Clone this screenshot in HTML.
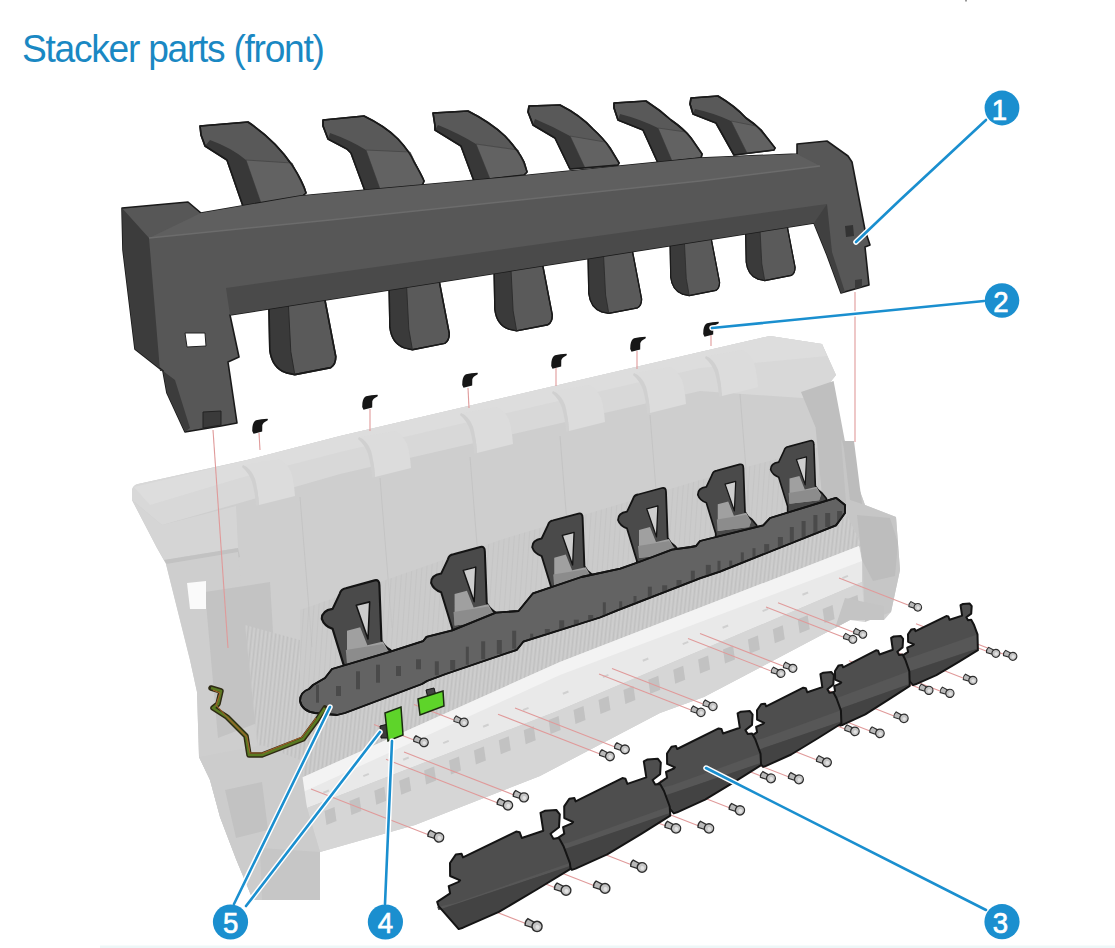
<!DOCTYPE html>
<html><head><meta charset="utf-8">
<style>
html,body{margin:0;padding:0;background:#fff;width:1115px;height:948px;overflow:hidden}
#t{position:absolute;left:22px;top:27.5px;font-family:"Liberation Sans",sans-serif;font-size:38px;color:#1a88c3;white-space:nowrap;letter-spacing:-1.3px;transform-origin:0 0;transform:scaleX(0.978)}
svg{position:absolute;left:0;top:0}
</style></head><body>
<div id="t">Stacker parts (front)</div>
<svg width="1115" height="948" viewBox="0 0 1115 948">
<defs><pattern id="hatch" width="4" height="24" patternUnits="userSpaceOnUse" patternTransform="rotate(6)"><rect width="4" height="24" fill="#cacaca"/><rect width="1.2" height="24" fill="#c0c0c0"/><rect x="2.4" width="0.6" height="24" fill="#d3d3d3"/></pattern><pattern id="hatchU" width="5" height="24" patternUnits="userSpaceOnUse" patternTransform="rotate(4)"><rect width="5" height="24" fill="#c8c8c8"/><rect width="1" height="24" fill="#bdbdbd"/></pattern></defs>
<g id="body">
<path d="M132,490 Q133,485 138,484 L247,460 L340,436 L700,352 L770,336 L822,344 L836,375 L817,399 L841,439 L865,505 L896,517 L900,570 L891,612 L884,620 L850,620 L780,657 L704,697 L660,713 L540,776 L415,825 L320,852 L320,900 L253,900 L236,859 L220,817 L210,780 L199,757 L197,692 L190,660 L166,564 L157,548 L132,500 Z" fill="#cecece"/>
<path d="M132,490 Q133,485 138,484 L247,460 L340,436 L700,352 L770,336 L822,344 L836,375 L817,399 L700,391 L340,474 L236,504 L162,525 L132,500 Z" fill="#d8d8d8"/>
<path d="M134,487 L247,460 L340,436 L700,352 L770,336 L822,344 L827,356 L700,368 L340,452 L240,478 L150,505 Z" fill="#dddddd"/>
<path d="M132,500 L162,525 L236,506 L238,548 L164,560 L157,548 Z" fill="#d5d5d5"/>
<path d="M164,560 L238,548 L240,557 L170,569 Z" fill="#c2c2c2"/>
<path d="M166,564 L238,552 L250,690 L262,790 L253,900 L236,859 L220,817 L210,780 L199,757 L197,692 L190,660 Z" fill="#cecece"/>
<path d="M205,592 L270,582 L278,715 L218,738 Z" fill="#c3c3c3"/>
<path d="M243,465 q8,3 12,14 q3,10 4,26 l36,-9 q-1,-14 -4,-24 q-4,-9 -12,-13 Z" fill="#dcdcdc"/>
<path d="M243,465 q8,3 12,14 q3,10 4,26 l-3,1 q-1,-14 -4,-24 q-3,-9 -10,-15 Z" fill="#d0d0d0"/>
<path d="M359,437 q8,3 12,14 q3,10 4,26 l36,-9 q-1,-14 -4,-24 q-4,-9 -12,-13 Z" fill="#dcdcdc"/>
<path d="M359,437 q8,3 12,14 q3,10 4,26 l-3,1 q-1,-14 -4,-24 q-3,-9 -10,-15 Z" fill="#d0d0d0"/>
<path d="M461,413 q8,3 12,14 q3,10 4,26 l36,-9 q-1,-14 -4,-24 q-4,-9 -12,-13 Z" fill="#dcdcdc"/>
<path d="M461,413 q8,3 12,14 q3,10 4,26 l-3,1 q-1,-14 -4,-24 q-3,-9 -10,-15 Z" fill="#d0d0d0"/>
<path d="M553,391 q8,3 12,14 q3,10 4,26 l36,-9 q-1,-14 -4,-24 q-4,-9 -12,-13 Z" fill="#dcdcdc"/>
<path d="M553,391 q8,3 12,14 q3,10 4,26 l-3,1 q-1,-14 -4,-24 q-3,-9 -10,-15 Z" fill="#d0d0d0"/>
<path d="M634,373 q8,3 12,14 q3,10 4,26 l36,-9 q-1,-14 -4,-24 q-4,-9 -12,-13 Z" fill="#dcdcdc"/>
<path d="M634,373 q8,3 12,14 q3,10 4,26 l-3,1 q-1,-14 -4,-24 q-3,-9 -10,-15 Z" fill="#d0d0d0"/>
<path d="M706,356 q8,3 12,14 q3,10 4,26 l36,-9 q-1,-14 -4,-24 q-4,-9 -12,-13 Z" fill="#dcdcdc"/>
<path d="M706,356 q8,3 12,14 q3,10 4,26 l-3,1 q-1,-14 -4,-24 q-3,-9 -10,-15 Z" fill="#d0d0d0"/>
<path d="M300,497 L312,647" stroke="#c4c4c4" stroke-width="1" fill="none"/>
<path d="M380,478 L392,628" stroke="#c4c4c4" stroke-width="1" fill="none"/>
<path d="M470,457 L482,607" stroke="#c4c4c4" stroke-width="1" fill="none"/>
<path d="M560,436 L572,586" stroke="#c4c4c4" stroke-width="1" fill="none"/>
<path d="M650,415 L662,565" stroke="#c4c4c4" stroke-width="1" fill="none"/>
<path d="M740,394 L752,544" stroke="#c4c4c4" stroke-width="1" fill="none"/>
<path d="M300,610 L500,540 L700,480 L845,440 L850,500 L560,630 L300,700 Z" fill="url(#hatchU)" opacity="0.55"/>
<path d="M801,392 L833.6,381 L844.4,438.5 L855,506.5 L823,506.5 L815.6,427.6 Z" fill="#bfbfbf"/>
<path d="M245,625 L300,640 L300,700 L560,628 L847,515 L862,546 L560,662 L299,779 L262,790 Z" fill="url(#hatch)"/>
<path d="M299,779 L560,662 L859,546 L862,561 L862,582 L560,710 L307,808 Z" fill="#e9e9e9"/>
<path d="M299,779 L560,662 L859,546 L862,561 L560,675 L303,792 Z" fill="#f3f3f3"/>
<rect x="323.0" y="791.8" width="6" height="2" fill="#d0d0d0" transform="rotate(-22 323.0 791.8)"/>
<rect x="362.9" y="775.2" width="6" height="2" fill="#d0d0d0" transform="rotate(-22 362.9 775.2)"/>
<rect x="402.8" y="758.8" width="6" height="2" fill="#d0d0d0" transform="rotate(-22 402.8 758.8)"/>
<rect x="442.8" y="742.2" width="6" height="2" fill="#d0d0d0" transform="rotate(-22 442.8 742.2)"/>
<rect x="482.7" y="725.8" width="6" height="2" fill="#d0d0d0" transform="rotate(-22 482.7 725.8)"/>
<rect x="522.6" y="709.2" width="6" height="2" fill="#d0d0d0" transform="rotate(-22 522.6 709.2)"/>
<rect x="562.5" y="692.8" width="6" height="2" fill="#d0d0d0" transform="rotate(-22 562.5 692.8)"/>
<rect x="602.5" y="676.2" width="6" height="2" fill="#d0d0d0" transform="rotate(-22 602.5 676.2)"/>
<rect x="642.4" y="659.8" width="6" height="2" fill="#d0d0d0" transform="rotate(-22 642.4 659.8)"/>
<rect x="682.3" y="643.2" width="6" height="2" fill="#d0d0d0" transform="rotate(-22 682.3 643.2)"/>
<rect x="722.2" y="626.8" width="6" height="2" fill="#d0d0d0" transform="rotate(-22 722.2 626.8)"/>
<rect x="762.2" y="610.2" width="6" height="2" fill="#d0d0d0" transform="rotate(-22 762.2 610.2)"/>
<rect x="802.1" y="593.8" width="6" height="2" fill="#d0d0d0" transform="rotate(-22 802.1 593.8)"/>
<rect x="842.0" y="577.2" width="6" height="2" fill="#d0d0d0" transform="rotate(-22 842.0 577.2)"/>
<path d="M307,808 L560,710 L862,582 L865,622 L850,620 L780,657 L704,697 L660,713 L540,776 L415,825 L320,852 Z" fill="#d6d6d6"/>
<path d="M324.5,811.0 l10,-4 l2,14 l-10,4 Z" fill="#c2c2c2"/>
<path d="M349.4,800.9 l10,-4 l2,14 l-10,4 Z" fill="#c2c2c2"/>
<path d="M374.3,790.8 l10,-4 l2,14 l-10,4 Z" fill="#c2c2c2"/>
<path d="M399.2,780.7 l10,-4 l2,14 l-10,4 Z" fill="#c2c2c2"/>
<path d="M424.1,770.6 l10,-4 l2,14 l-10,4 Z" fill="#c2c2c2"/>
<path d="M449.0,760.5 l10,-4 l2,14 l-10,4 Z" fill="#c2c2c2"/>
<path d="M473.9,750.4 l10,-4 l2,14 l-10,4 Z" fill="#c2c2c2"/>
<path d="M498.8,740.3 l10,-4 l2,14 l-10,4 Z" fill="#c2c2c2"/>
<path d="M523.7,730.2 l10,-4 l2,14 l-10,4 Z" fill="#c2c2c2"/>
<path d="M548.6,720.1 l10,-4 l2,14 l-10,4 Z" fill="#c2c2c2"/>
<path d="M573.5,710.0 l10,-4 l2,14 l-10,4 Z" fill="#c2c2c2"/>
<path d="M598.5,700.0 l10,-4 l2,14 l-10,4 Z" fill="#c2c2c2"/>
<path d="M623.4,689.9 l10,-4 l2,14 l-10,4 Z" fill="#c2c2c2"/>
<path d="M648.3,679.8 l10,-4 l2,14 l-10,4 Z" fill="#c2c2c2"/>
<path d="M673.2,669.7 l10,-4 l2,14 l-10,4 Z" fill="#c2c2c2"/>
<path d="M698.1,659.6 l10,-4 l2,14 l-10,4 Z" fill="#c2c2c2"/>
<path d="M723.0,649.5 l10,-4 l2,14 l-10,4 Z" fill="#c2c2c2"/>
<path d="M747.9,639.4 l10,-4 l2,14 l-10,4 Z" fill="#c2c2c2"/>
<path d="M772.8,629.3 l10,-4 l2,14 l-10,4 Z" fill="#c2c2c2"/>
<path d="M797.7,619.2 l10,-4 l2,14 l-10,4 Z" fill="#c2c2c2"/>
<path d="M822.6,609.1 l10,-4 l2,14 l-10,4 Z" fill="#c2c2c2"/>
<path d="M847.5,599.0 l10,-4 l2,14 l-10,4 Z" fill="#c2c2c2"/>
<path d="M841,439 L865,505 L896,517 L900,570 L891,612 L865,622 L862,546 L847,515 Z" fill="#c6c6c6"/>
<path d="M857,515 L890,518 L898,543 L895,576 L873,581 L862,560 Z" fill="#bdbdbd"/>
<path d="M843,441 L854,441 L862,504 L850,500 Z" fill="#bcbcbc"/>
<path d="M845,598 L884,606 L884,620 L850,620 L835,628 Z" fill="#c4c4c4"/>
<path d="M199,757 L262,745 L300,760 L307,808 L320,852 L320,900 L253,900 L236,859 L220,817 L210,780 Z" fill="#cccccc"/>
<path d="M260,848 L320,852 L320,900 L262,900 Z" fill="#c6c6c6"/>
<path d="M225,790 L262,782 L268,830 L236,838 Z" fill="#c2c2c2"/>
<path d="M187,583 L206,581 L206,609 L190,609 Z" fill="#fafafa"/>
</g>
<g id="arms" stroke="#141414" stroke-width="1.8" stroke-linejoin="round">
<defs>
<g id="arm">
<path d="M-1,3 Q0,-1 4,-1.5 L28,-8 Q32,-9 32,-4 L33.7,42 Q36,47 41,50 L46,56 L46,74 L3,74 L2.9,64.7 L-7,32.4 Q-14,30 -16,24 Q-16,17 -7,15.7 Z" fill="#4a4a4a"/>
<path d="M5,34 L16,31 L22,46 L35,43 L40,52 L38,58 L5,62 Z" fill="#a0a0a0" stroke="none"/>
<path d="M4,50 L35,45 L40,52 L38,58 L5,62 Z" fill="#8c8c8c" stroke="none"/>
<path d="M12.7,12.8 L23.9,9.9 L22.5,40.9 Z" fill="#cdcdcd" stroke-width="1.3"/>
</g>
</defs>
<use href="#arm" transform="translate(341,590) scale(1.2)"/>
<use href="#arm" transform="translate(449,556) scale(1.12)"/>
<use href="#arm" transform="translate(549,522) scale(1.05)"/>
<use href="#arm" transform="translate(634,496) scale(1.0)"/>
<use href="#arm" transform="translate(713,472) scale(0.95)"/>
<use href="#arm" transform="translate(785,448) scale(0.9)"/>
<path d="M300,701 Q300,692 309,689 L313,685 L325,678 L332,669 L388,652.3 L423,641.2 L426.5,636.9 L452.3,630.4 L495.9,612.6 L518.5,611 L533,593.3 L581.4,577 L620.3,568.7 L641.8,561 L672,549.7 L691,547 L696,546 L700,541 L763.2,525.4 L770,518 L836,497.8 L845,505 L845,513 L836,525.4 L720,571.6 L700.5,578.2 L617.4,610.3 L600,617.5 L523.3,641.7 L516.9,649.8 L445.8,674 L427,681 L422,684 L345,713 L337,715 L315,713 Q302,711 300,701 Z" fill="#636363"/>
<clipPath id="bclip"><path d="M300,701 Q300,692 309,689 L313,685 L325,678 L332,669 L388,652.3 L423,641.2 L426.5,636.9 L452.3,630.4 L495.9,612.6 L518.5,611 L533,593.3 L581.4,577 L620.3,568.7 L641.8,561 L672,549.7 L691,547 L696,546 L700,541 L763.2,525.4 L770,518 L836,497.8 L845,505 L845,513 L836,525.4 L720,571.6 L700.5,578.2 L617.4,610.3 L600,617.5 L523.3,641.7 L516.9,649.8 L445.8,674 L427,681 L422,684 L345,713 L337,715 L315,713 Q302,711 300,701 Z"/></clipPath><g clip-path="url(#bclip)">
<rect x="316.0" y="684.7" width="3" height="18" fill="#4a4a4a" stroke="none"/>
<rect x="336.0" y="686.0" width="5" height="10" fill="#4a4a4a" stroke="none"/>
<rect x="356.0" y="671.3" width="4" height="18" fill="#4a4a4a" stroke="none"/>
<rect x="376.0" y="664.7" width="4" height="18" fill="#4a4a4a" stroke="none"/>
<rect x="396.0" y="666.0" width="5" height="10" fill="#4a4a4a" stroke="none"/>
<rect x="416.0" y="659.3" width="5" height="10" fill="#4a4a4a" stroke="none"/>
<rect x="434.8" y="661.3" width="4" height="14" fill="#4a4a4a" stroke="none"/>
<rect x="450.2" y="660.0" width="5" height="10" fill="#4a4a4a" stroke="none"/>
<rect x="465.8" y="646.7" width="3" height="18" fill="#4a4a4a" stroke="none"/>
<rect x="481.2" y="641.3" width="4" height="18" fill="#4a4a4a" stroke="none"/>
<rect x="496.8" y="640.0" width="5" height="14" fill="#4a4a4a" stroke="none"/>
<rect x="512.2" y="630.7" width="4" height="18" fill="#4a4a4a" stroke="none"/>
<rect x="530.2" y="633.7" width="3" height="10" fill="#4a4a4a" stroke="none"/>
<rect x="544.8" y="629.0" width="5" height="10" fill="#4a4a4a" stroke="none"/>
<rect x="559.2" y="620.3" width="5" height="14" fill="#4a4a4a" stroke="none"/>
<rect x="573.8" y="619.7" width="5" height="10" fill="#4a4a4a" stroke="none"/>
<rect x="588.2" y="615.0" width="5" height="10" fill="#4a4a4a" stroke="none"/>
<rect x="602.8" y="602.3" width="3" height="18" fill="#4a4a4a" stroke="none"/>
<rect x="619.2" y="601.3" width="3" height="14" fill="#4a4a4a" stroke="none"/>
<rect x="633.5" y="596.0" width="3" height="14" fill="#4a4a4a" stroke="none"/>
<rect x="647.8" y="586.7" width="4" height="18" fill="#4a4a4a" stroke="none"/>
<rect x="662.2" y="585.3" width="5" height="14" fill="#4a4a4a" stroke="none"/>
<rect x="676.5" y="580.0" width="5" height="14" fill="#4a4a4a" stroke="none"/>
<rect x="690.8" y="570.7" width="4" height="18" fill="#4a4a4a" stroke="none"/>
<rect x="705.8" y="564.9" width="5" height="14" fill="#4a4a4a" stroke="none"/>
<rect x="717.5" y="560.8" width="3" height="14" fill="#4a4a4a" stroke="none"/>
<rect x="729.2" y="560.6" width="3" height="10" fill="#4a4a4a" stroke="none"/>
<rect x="740.8" y="552.4" width="3" height="14" fill="#4a4a4a" stroke="none"/>
<rect x="752.5" y="548.2" width="3" height="14" fill="#4a4a4a" stroke="none"/>
<rect x="764.2" y="544.1" width="5" height="14" fill="#4a4a4a" stroke="none"/>
<rect x="777.9" y="537.0" width="5" height="14" fill="#4a4a4a" stroke="none"/>
<rect x="789.8" y="527.0" width="4" height="18" fill="#4a4a4a" stroke="none"/>
<rect x="801.6" y="521.0" width="4" height="18" fill="#4a4a4a" stroke="none"/>
<rect x="813.4" y="515.0" width="4" height="18" fill="#4a4a4a" stroke="none"/>
<rect x="825.2" y="513.0" width="5" height="14" fill="#4a4a4a" stroke="none"/>
<rect x="837.1" y="511.0" width="5" height="10" fill="#4a4a4a" stroke="none"/>
</g>
<path d="M300,701 Q300,692 309,689 L313,685 L325,678 L332,669 L388,652.3 L423,641.2 L426.5,636.9 L452.3,630.4 L495.9,612.6 L518.5,611 L533,593.3 L581.4,577 L620.3,568.7 L641.8,561 L672,549.7 L691,547 L696,546 L700,541 L763.2,525.4 L770,518 L836,497.8 L845,505 L845,513 L836,525.4 L720,571.6 L700.5,578.2 L617.4,610.3 L600,617.5 L523.3,641.7 L516.9,649.8 L445.8,674 L427,681 L422,684 L345,713 L337,715 L315,713 Q302,711 300,701 Z" fill="none" stroke="#141414" stroke-width="1.8"/>
</g>
<g stroke="#e09a9a" stroke-width="1.1" fill="none">
<line x1="908" y1="605" x2="839.0" y2="578.1"/>
<line x1="853" y1="632" x2="778.0" y2="602.8"/>
<line x1="843" y1="637" x2="766.0" y2="607.0"/>
<line x1="783" y1="666" x2="700.0" y2="633.6"/>
<line x1="771" y1="671" x2="688.0" y2="638.6"/>
<line x1="986" y1="651" x2="916.0" y2="623.7"/>
<line x1="1003" y1="654" x2="933.0" y2="626.7"/>
<line x1="963" y1="678" x2="893.0" y2="650.7"/>
<line x1="919" y1="688" x2="849.0" y2="660.7"/>
<line x1="940" y1="691" x2="870.0" y2="663.7"/>
<line x1="894" y1="716" x2="824.0" y2="688.7"/>
<line x1="845" y1="729" x2="775.0" y2="701.7"/>
<line x1="870" y1="731" x2="800.0" y2="703.7"/>
<line x1="817" y1="760" x2="747.0" y2="732.7"/>
<line x1="761" y1="776" x2="691.0" y2="748.7"/>
<line x1="789" y1="777" x2="719.0" y2="749.7"/>
<line x1="730" y1="808" x2="660.0" y2="780.7"/>
<line x1="666" y1="826" x2="596.0" y2="798.7"/>
<line x1="699" y1="826" x2="629.0" y2="798.7"/>
<line x1="632" y1="865" x2="562.0" y2="837.7"/>
<line x1="595" y1="886" x2="525.0" y2="858.7"/>
<line x1="556" y1="888" x2="486.0" y2="860.7"/>
<line x1="527" y1="924" x2="457.0" y2="896.7"/>
<line x1="454" y1="720" x2="414.0" y2="704.4"/>
<line x1="414" y1="740" x2="374.0" y2="724.4"/>
<line x1="615" y1="747" x2="515.0" y2="708.0"/>
<line x1="600" y1="754" x2="498.0" y2="714.2"/>
<line x1="514" y1="795" x2="404.0" y2="752.1"/>
<line x1="498" y1="803" x2="386.0" y2="759.3"/>
<line x1="429" y1="835" x2="311.0" y2="789.0"/>
<line x1="691" y1="710" x2="599.0" y2="674.1"/>
<line x1="703" y1="704" x2="612.0" y2="668.5"/>
<line x1="213" y1="430" x2="228" y2="648"/><line x1="855" y1="292" x2="855" y2="442"/>
<line x1="259" y1="433" x2="260" y2="450"/>
<line x1="370" y1="409" x2="370" y2="431"/>
<line x1="468" y1="388" x2="469" y2="408"/>
<line x1="556" y1="368" x2="556" y2="386"/>
<line x1="637" y1="351" x2="637" y2="369"/>
<line x1="711" y1="335" x2="711" y2="346"/>
</g>
<path d="M908.0,634.3 L911.4,629.4 L914.7,629.0 L915.5,631.1 L946.3,616.1 L948.4,616.5 L949.6,619.8 L962.1,615.6 L960.5,605.2 L963.0,604.0 L969.7,603.6 L971.7,606.1 L971.2,613.6 L966.3,617.3 L968.0,620.2 L971.2,619.8 L973.8,624.4 L977.5,634.4 L977.9,650.2 L958.8,661.9 L936.4,675.2 L915.5,684.3 L913.0,685.1 L901.4,671.9 L900.6,656.9 L908.1,651.9 L907.2,647.7 L913.0,645.2 L913.9,644.3 L908.1,641.8 Z" fill="#4e4e4e"/>
<path d="M900.6,659.8 L911.1,657.5 L975.7,634.9 L977.5,634.4 L977.8,648.5 L901.3,674.1 Z" fill="#575757"/>
<path d="M901.3,674.1 L977.8,648.5 L977.9,650.2 L958.8,661.9 L936.4,675.2 L915.5,684.3 L913.0,685.1 L901.4,671.9 Z" fill="#434343"/>
<path d="M908.0,634.3 L911.4,629.4 L914.7,629.0 L915.5,631.1 L946.3,616.1 L948.4,616.5 L949.6,619.8 L962.1,615.6 L960.5,605.2 L963.0,604.0 L969.7,603.6 L971.7,606.1 L971.2,613.6 L966.3,617.3 L968.0,620.2 L971.2,619.8 L973.8,624.4 L977.5,634.4 L977.9,650.2 L958.8,661.9 L936.4,675.2 L915.5,684.3 L913.0,685.1 L901.4,671.9 L900.6,656.9 L908.1,651.9 L907.2,647.7 L913.0,645.2 L913.9,644.3 L908.1,641.8 Z" fill="none" stroke="#141414" stroke-width="2" stroke-linejoin="round"/>
<path d="M835.0,671.0 L838.6,665.4 L842.2,664.9 L843.1,667.3 L876.0,650.3 L878.2,650.7 L879.5,654.5 L892.8,649.7 L891.1,637.9 L893.8,636.5 L900.9,636.0 L903.1,638.9 L902.6,647.4 L897.3,651.7 L899.1,655.0 L902.6,654.5 L905.3,659.7 L909.3,671.1 L909.8,685.9 L889.3,699.2 L865.3,714.3 L843.1,724.7 L840.4,725.6 L827.9,710.5 L827.1,696.7 L835.1,691.0 L834.2,686.2 L840.4,683.4 L841.3,682.4 L835.1,679.6 Z" fill="#4e4e4e"/>
<path d="M827.1,700.0 L838.3,697.4 L907.4,671.7 L909.3,671.1 L909.6,684.0 L827.8,713.0 Z" fill="#575757"/>
<path d="M827.8,713.0 L909.6,684.0 L909.8,685.9 L889.3,699.2 L865.3,714.3 L843.1,724.7 L840.4,725.6 L827.9,710.5 Z" fill="#434343"/>
<path d="M835.0,671.0 L838.6,665.4 L842.2,664.9 L843.1,667.3 L876.0,650.3 L878.2,650.7 L879.5,654.5 L892.8,649.7 L891.1,637.9 L893.8,636.5 L900.9,636.0 L903.1,638.9 L902.6,647.4 L897.3,651.7 L899.1,655.0 L902.6,654.5 L905.3,659.7 L909.3,671.1 L909.8,685.9 L889.3,699.2 L865.3,714.3 L843.1,724.7 L840.4,725.6 L827.9,710.5 L827.1,696.7 L835.1,691.0 L834.2,686.2 L840.4,683.4 L841.3,682.4 L835.1,679.6 Z" fill="none" stroke="#141414" stroke-width="2" stroke-linejoin="round"/>
<path d="M757.0,710.3 L761.1,704.2 L765.1,703.7 L766.1,706.3 L803.3,687.7 L805.8,688.2 L807.3,692.3 L822.3,687.1 L820.4,674.2 L823.4,672.7 L831.4,672.1 L833.9,675.2 L833.3,684.6 L827.4,689.2 L829.4,692.8 L833.3,692.3 L836.4,698.0 L840.9,710.4 L841.4,723.5 L818.3,738.0 L791.2,754.5 L766.1,765.9 L763.1,766.9 L749.0,750.4 L748.0,738.3 L757.1,732.1 L756.1,726.9 L763.1,723.8 L764.1,722.8 L757.1,719.7 Z" fill="#4e4e4e"/>
<path d="M748.0,742.0 L760.8,739.1 L838.8,711.0 L840.9,710.4 L841.2,721.5 L748.9,753.1 Z" fill="#575757"/>
<path d="M748.9,753.1 L841.2,721.5 L841.4,723.5 L818.3,738.0 L791.2,754.5 L766.1,765.9 L763.1,766.9 L749.0,750.4 Z" fill="#434343"/>
<path d="M757.0,710.3 L761.1,704.2 L765.1,703.7 L766.1,706.3 L803.3,687.7 L805.8,688.2 L807.3,692.3 L822.3,687.1 L820.4,674.2 L823.4,672.7 L831.4,672.1 L833.9,675.2 L833.3,684.6 L827.4,689.2 L829.4,692.8 L833.3,692.3 L836.4,698.0 L840.9,710.4 L841.4,723.5 L818.3,738.0 L791.2,754.5 L766.1,765.9 L763.1,766.9 L749.0,750.4 L748.0,738.3 L757.1,732.1 L756.1,726.9 L763.1,723.8 L764.1,722.8 L757.1,719.7 Z" fill="none" stroke="#141414" stroke-width="2" stroke-linejoin="round"/>
<path d="M667.0,753.5 L671.5,746.7 L676.0,746.1 L677.1,749.0 L718.6,728.4 L721.4,728.9 L723.0,733.5 L739.8,727.7 L737.6,713.4 L740.9,711.7 L749.9,711.1 L752.6,714.5 L752.0,724.9 L745.4,730.1 L747.7,734.1 L752.0,733.5 L755.5,739.8 L760.5,753.6 L761.1,765.2 L735.3,781.3 L705.1,799.6 L677.1,812.3 L673.8,813.4 L658.1,795.1 L657.0,784.6 L667.1,777.7 L666.0,772.0 L673.8,768.5 L674.9,767.3 L667.1,763.9 Z" fill="#4e4e4e"/>
<path d="M657.0,788.7 L671.2,785.5 L758.1,754.3 L760.5,753.6 L760.8,762.9 L658.0,798.1 Z" fill="#575757"/>
<path d="M658.0,798.1 L760.8,762.9 L761.1,765.2 L735.3,781.3 L705.1,799.6 L677.1,812.3 L673.8,813.4 L658.1,795.1 Z" fill="#434343"/>
<path d="M667.0,753.5 L671.5,746.7 L676.0,746.1 L677.1,749.0 L718.6,728.4 L721.4,728.9 L723.0,733.5 L739.8,727.7 L737.6,713.4 L740.9,711.7 L749.9,711.1 L752.6,714.5 L752.0,724.9 L745.4,730.1 L747.7,734.1 L752.0,733.5 L755.5,739.8 L760.5,753.6 L761.1,765.2 L735.3,781.3 L705.1,799.6 L677.1,812.3 L673.8,813.4 L658.1,795.1 L657.0,784.6 L667.1,777.7 L666.0,772.0 L673.8,768.5 L674.9,767.3 L667.1,763.9 Z" fill="none" stroke="#141414" stroke-width="2" stroke-linejoin="round"/>
<path d="M564.2,806.4 L569.3,798.8 L574.4,798.1 L575.6,801.4 L622.4,778.1 L625.5,778.8 L627.4,783.9 L646.3,777.4 L643.8,761.3 L647.6,759.4 L657.7,758.7 L660.8,762.6 L660.1,774.3 L652.6,780.0 L655.2,784.5 L660.1,783.9 L664.0,791.0 L669.7,806.5 L670.3,815.7 L641.3,833.8 L607.2,854.4 L575.6,868.6 L571.9,869.9 L554.2,849.3 L552.9,841.4 L564.3,833.7 L563.1,827.2 L571.9,823.3 L573.1,822.0 L564.3,818.1 Z" fill="#4e4e4e"/>
<path d="M552.9,846.0 L569.0,842.4 L667.0,807.3 L669.7,806.5 L670.1,813.1 L554.0,852.7 Z" fill="#575757"/>
<path d="M554.0,852.7 L670.1,813.1 L670.3,815.7 L641.3,833.8 L607.2,854.4 L575.6,868.6 L571.9,869.9 L554.2,849.3 Z" fill="#434343"/>
<path d="M564.2,806.4 L569.3,798.8 L574.4,798.1 L575.6,801.4 L622.4,778.1 L625.5,778.8 L627.4,783.9 L646.3,777.4 L643.8,761.3 L647.6,759.4 L657.7,758.7 L660.8,762.6 L660.1,774.3 L652.6,780.0 L655.2,784.5 L660.1,783.9 L664.0,791.0 L669.7,806.5 L670.3,815.7 L641.3,833.8 L607.2,854.4 L575.6,868.6 L571.9,869.9 L554.2,849.3 L552.9,841.4 L564.3,833.7 L563.1,827.2 L571.9,823.3 L573.1,822.0 L564.3,818.1 Z" fill="none" stroke="#141414" stroke-width="2" stroke-linejoin="round"/>
<path d="M450.0,863.0 L455.8,854.5 L461.6,853.8 L463.0,857.4 L516.1,831.6 L519.7,832.3 L521.8,838.0 L543.3,830.8 L540.5,812.9 L544.8,810.8 L556.3,810.0 L559.8,814.3 L559.0,827.3 L550.5,833.7 L553.4,838.7 L559.0,838.0 L563.4,845.9 L569.9,863.1 L570.6,868.9 L537.6,889.0 L498.9,911.9 L463.0,927.7 L458.7,929.1 L438.6,906.2 L437.2,901.9 L450.1,893.3 L448.7,886.1 L458.7,881.8 L460.1,880.3 L450.1,876.0 Z" fill="#4e4e4e"/>
<path d="M437.2,907.0 L455.4,903.0 L566.8,864.0 L569.9,863.1 L570.3,866.0 L438.4,910.0 Z" fill="#575757"/>
<path d="M438.4,910.0 L570.3,866.0 L570.6,868.9 L537.6,889.0 L498.9,911.9 L463.0,927.7 L458.7,929.1 L438.6,906.2 Z" fill="#434343"/>
<path d="M450.0,863.0 L455.8,854.5 L461.6,853.8 L463.0,857.4 L516.1,831.6 L519.7,832.3 L521.8,838.0 L543.3,830.8 L540.5,812.9 L544.8,810.8 L556.3,810.0 L559.8,814.3 L559.0,827.3 L550.5,833.7 L553.4,838.7 L559.0,838.0 L563.4,845.9 L569.9,863.1 L570.6,868.9 L537.6,889.0 L498.9,911.9 L463.0,927.7 L458.7,929.1 L438.6,906.2 L437.2,901.9 L450.1,893.3 L448.7,886.1 L458.7,881.8 L460.1,880.3 L450.1,876.0 Z" fill="none" stroke="#141414" stroke-width="2" stroke-linejoin="round"/>
<defs><g id="screw"><path d="M-2,-2.4 L-9,-3.2 Q-10.6,0 -9,3 L-2,2.4 Z" fill="#b9b9b9" stroke="#2e2e2e" stroke-width="1.2"/><circle cx="1" cy="0" r="4.4" fill="#c4c4c4" stroke="#2e2e2e" stroke-width="1.3"/><circle cx="1.6" cy="0.4" r="1.8" fill="#e2e2e2"/></g></defs>
<use href="#screw" transform="translate(917,607) rotate(22) scale(0.86)"/>
<use href="#screw" transform="translate(862,634) rotate(22) scale(0.88)"/>
<use href="#screw" transform="translate(852,639) rotate(22) scale(0.89)"/>
<use href="#screw" transform="translate(792,668) rotate(22) scale(0.91)"/>
<use href="#screw" transform="translate(780,673) rotate(22) scale(0.92)"/>
<use href="#screw" transform="translate(995,653) rotate(22) scale(0.90)"/>
<use href="#screw" transform="translate(1012,656) rotate(22) scale(0.90)"/>
<use href="#screw" transform="translate(972,680) rotate(22) scale(0.92)"/>
<use href="#screw" transform="translate(928,690) rotate(22) scale(0.93)"/>
<use href="#screw" transform="translate(949,693) rotate(22) scale(0.93)"/>
<use href="#screw" transform="translate(903,718) rotate(22) scale(0.96)"/>
<use href="#screw" transform="translate(854,731) rotate(22) scale(0.97)"/>
<use href="#screw" transform="translate(879,733) rotate(22) scale(0.97)"/>
<use href="#screw" transform="translate(826,762) rotate(22) scale(1.00)"/>
<use href="#screw" transform="translate(770,778) rotate(22) scale(1.01)"/>
<use href="#screw" transform="translate(798,779) rotate(22) scale(1.01)"/>
<use href="#screw" transform="translate(739,810) rotate(22) scale(1.04)"/>
<use href="#screw" transform="translate(675,828) rotate(22) scale(1.06)"/>
<use href="#screw" transform="translate(708,828) rotate(22) scale(1.06)"/>
<use href="#screw" transform="translate(641,867) rotate(22) scale(1.09)"/>
<use href="#screw" transform="translate(604,888) rotate(22) scale(1.11)"/>
<use href="#screw" transform="translate(565,890) rotate(22) scale(1.11)"/>
<use href="#screw" transform="translate(536,926) rotate(22) scale(1.15)"/>
<use href="#screw" transform="translate(463,722) rotate(22) scale(0.96)"/>
<use href="#screw" transform="translate(423,742) rotate(22) scale(0.98)"/>
<use href="#screw" transform="translate(624,749) rotate(22) scale(0.99)"/>
<use href="#screw" transform="translate(609,756) rotate(22) scale(0.99)"/>
<use href="#screw" transform="translate(523,797) rotate(22) scale(1.03)"/>
<use href="#screw" transform="translate(507,805) rotate(22) scale(1.04)"/>
<use href="#screw" transform="translate(438,837) rotate(22) scale(1.07)"/>
<use href="#screw" transform="translate(700,712) rotate(22) scale(0.95)"/>
<use href="#screw" transform="translate(712,706) rotate(22) scale(0.95)"/>
<g id="cover" stroke="#1a1a1a" stroke-width="1.6" stroke-linejoin="round">
<path d="M201,135 L200,126 L248,122 Q275,140 292,165 Q303,182 306,193 L300,198 L244,209 L227,160 L205,146 Z" fill="#595959"/>
<path d="M246,160 L292,163 L306,193 L300,198 L262,206 Z" fill="#626262" stroke="#454545" stroke-width="0.8"/>
<path d="M205,146 L227,160 L244,209 L262,206 L246,160 Q232,148 210,140 Z" fill="#383838" stroke="none"/>
<path d="M201,135 L200,126 L248,122 Q275,140 292,165 Q303,182 306,193 L300,198 L244,209 L227,160 L205,146 Z" fill="none"/>
<path d="M323,126 L323,120 L364,116 Q385,126 398,139 Q410,152 414,162 Q421,174 424,181 L422,186 L365,191 L351,153 L347,149 L328,139 Z" fill="#595959"/>
<path d="M366,150 L410,152 L424,181 L422,186 L380,189 Z" fill="#626262" stroke="#454545" stroke-width="0.8"/>
<path d="M328,139 L347,149 L351,153 L365,191 L380,189 L366,150 Q350,140 330,133 Z" fill="#383838" stroke="none"/>
<path d="M323,126 L323,120 L364,116 Q385,126 398,139 Q410,152 414,162 Q421,174 424,181 L422,186 L365,191 L351,153 L347,149 L328,139 Z" fill="none"/>
<path d="M435,126 L433,113 L468,111 Q490,122 505,136 Q518,150 524,162 L527,172 L524,175 L474,181 L461,146 L435,130 Z" fill="#595959"/>
<path d="M476,144 L518,150 L527,172 L524,175 L490,179 Z" fill="#626262" stroke="#454545" stroke-width="0.8"/>
<path d="M435,130 L461,146 L474,181 L490,179 L476,144 Q458,133 438,125 Z" fill="#383838" stroke="none"/>
<path d="M435,126 L433,113 L468,111 Q490,122 505,136 Q518,150 524,162 L527,172 L524,175 L474,181 L461,146 L435,130 Z" fill="none"/>
<path d="M528,112 L529,106 L560,105 Q580,115 593,129 Q604,139 610,148 L619,163 L618,165 L570,169 L555,138 L533,125 Z" fill="#595959"/>
<path d="M570,136 L605,142 L619,163 L618,165 L585,168 Z" fill="#626262" stroke="#454545" stroke-width="0.8"/>
<path d="M533,125 L555,138 L570,169 L585,168 L570,136 Q552,126 535,119 Z" fill="#383838" stroke="none"/>
<path d="M528,112 L529,106 L560,105 Q580,115 593,129 Q604,139 610,148 L619,163 L618,165 L570,169 L555,138 L533,125 Z" fill="none"/>
<path d="M614,108 L614,103 L646,101 Q660,110 671,120 Q684,129 691,138 L702,154 L701,158 L658,163 L643,130 L618,120 Z" fill="#595959"/>
<path d="M658,128 L686,132 L702,154 L701,158 L672,161 Z" fill="#626262" stroke="#454545" stroke-width="0.8"/>
<path d="M618,120 L643,130 L658,163 L672,161 L658,128 Q640,119 620,114 Z" fill="#383838" stroke="none"/>
<path d="M614,108 L614,103 L646,101 Q660,110 671,120 Q684,129 691,138 L702,154 L701,158 L658,163 L643,130 L618,120 Z" fill="none"/>
<path d="M690,104 L691,98 L718,96 Q735,106 746,118 Q755,124 761,130 L775,148 L774,150 L734,155 L716,123 L693,114 Z" fill="#595959"/>
<path d="M731,121 L756,126 L775,148 L774,150 L747,153 Z" fill="#626262" stroke="#454545" stroke-width="0.8"/>
<path d="M693,114 L716,123 L734,155 L747,153 L731,121 Q714,113 695,109 Z" fill="#383838" stroke="none"/>
<path d="M690,104 L691,98 L718,96 Q735,106 746,118 Q755,124 761,130 L775,148 L774,150 L734,155 L716,123 L693,114 Z" fill="none"/>
<defs><g id="lfing"><path d="M0,-14 L1,38 Q3,56 17,61 L26,63 L62,56 Q67,53 67,45 L53,-28 Z" fill="#5a5a5a"/><path d="M0,-14 L1,38 Q3,56 17,61 L26,63 L22,40 L19,-18 Z" fill="#3a3a3a" stroke="none"/><path d="M0,-14 L1,38 Q3,56 17,61 L26,63 L62,56 Q67,53 67,45 L53,-28" fill="none"/><path d="M19,-18 L22,40 L26,63" fill="none" stroke="#2a2a2a" stroke-width="1"/></g></defs>
<use href="#lfing" transform="translate(268.8,311.6) scale(1.0)"/>
<use href="#lfing" transform="translate(389,293) scale(0.9)"/>
<use href="#lfing" transform="translate(494,276) scale(0.87)"/>
<use href="#lfing" transform="translate(588,263) scale(0.8)"/>
<use href="#lfing" transform="translate(670,249) scale(0.74)"/>
<use href="#lfing" transform="translate(745.5,234) scale(0.74)"/>
<path d="M122,208 L188,202 L201,213 L300,196 L510,177 L700,158 L797,154 L797,144 L827,141 L848,156 L852,162 L865,230 L870,245 L865,247 L869,285 L841,293 L827,255 L816,228 L814,223 L230,315 L239,357 L228,362 L237,423 L221,426 L203,429 L185,432 L167,393 L163,371 L135,349 L123,250 Z" fill="#575757"/>
<path d="M149,238 L201,213 L300,196 L510,177 L700,158 L797,154 L820,166 L700,181 L330,220 Z" fill="#5f5f5f" stroke="none"/>
<path d="M149,238 L330,220 L700,181 L820,166" fill="none" stroke="#6c6c6c" stroke-width="1.5"/>
<path d="M226,288 L827,204 L816,228 L814,223 L230,315 Z" fill="#4a4a4a" stroke="none"/>
<path d="M123,250 L122,208 L149,238 L160,371 L163,371 L135,349 Z" fill="#3c3c3c" stroke="none"/>
<path d="M163,371 L167,393 L185,432 L190,428 L175,380 Z" fill="#3c3c3c" stroke="none"/>
<path d="M814,223 L827,255 L841,293 L845,292 L832,252 L827,204 Z" fill="#404040" stroke="none"/>
<path d="M185,333 L205,333 L206,346 L187,347 Z" fill="#fff" stroke="#222" stroke-width="1"/>
<path d="M203,412 L221,411 L221,425 L203,428 Z" fill="#3a3a3a" stroke="#222" stroke-width="1"/>
<path d="M855,280 L862,279 L862,287 L855,289 Z" fill="#3a3a3a" stroke="none"/>
<path d="M845,226 L853,225 L854,236 L846,237 Z" fill="#333" stroke="none"/>
</g>
<defs><path id="clip" d="M-0.8,13 L-0.6,9 Q0,4 3,2.2 Q8,1 14.5,0.7 Q15.5,2 14,2.8 Q10,4.5 9.3,7.3 L9.2,13.6 L0.5,15.8 Z" fill="#161616"/></defs>
<use href="#clip" transform="translate(253,418)"/>
<use href="#clip" transform="translate(363,394)"/>
<use href="#clip" transform="translate(463,372)"/>
<use href="#clip" transform="translate(552,353)"/>
<use href="#clip" transform="translate(631,336)"/>
<use href="#clip" transform="translate(704,321)"/>
<path d="M211,688 L221,691 L218,704 L213,708 L227,717 L246,736 L249,755 L262,755 L303,739 L317,720 L325,708" fill="none" stroke="#2e2a14" stroke-width="5.5" stroke-linejoin="round" stroke-linecap="round"/>
<path d="M211,688 L221,691 L218,704 L213,708 L227,717 L246,736 L249,755 L262,755 L303,739 L317,720 L325,708" fill="none" stroke="#5a7a22" stroke-width="2.6" stroke-linejoin="round"/>
<path d="M213,690 L220,693 L216,705 L228,718 L247,737 L250,753 L263,753 L302,737 L316,718" fill="none" stroke="#a0602a" stroke-width="1.1" stroke-linejoin="round"/>
<path d="M380,726 L388,724 L388,738 L381,738 Z" fill="#3a3a3a" stroke="#111" stroke-width="1"/>
<path d="M385,713 L401,707 L403,735 L388,741 Z" fill="#5ed42a" stroke="#1a2a10" stroke-width="1.5"/>
<path d="M426,690 L434,688 L436,696 L428,698 Z" fill="#444" stroke="#111" stroke-width="1"/>
<path d="M418,699 L443,691 L444,706 L420,715 Z" fill="#5ed42a" stroke="#1a2a10" stroke-width="1.5"/>
<g fill="none" stroke-linecap="round"><g stroke="#ffffff" stroke-width="5.5"><path d="M986,120 L900,200 L856,242"/><path d="M984,301 L712,328"/><path d="M986,910 L706,768"/><path d="M385,904 L392,741"/><path d="M234,904 L330,707"/><path d="M246,906 L380,732"/></g><g stroke="#1a8fcf" stroke-width="2.6"><path d="M986,120 L900,200 L856,242"/><path d="M984,301 L712,328"/><path d="M986,910 L706,768"/><path d="M385,904 L392,741"/><path d="M234,904 L330,707"/><path d="M246,906 L380,732"/></g></g>
<g fill="#1b8fcf"><circle cx="1002" cy="108" r="17.4"/><circle cx="1002" cy="300.5" r="17.3"/><circle cx="1002" cy="921.7" r="17.6"/><circle cx="385.4" cy="922" r="17.6"/><circle cx="230.5" cy="922" r="17.6"/></g>
<text x="0" y="0" transform="translate(999.5,119.5) scale(0.92,1)" fill="#ffffff" stroke="#ffffff" stroke-width="0.7" font-family="Liberation Sans, sans-serif" font-size="30" text-anchor="middle">1</text>
<text x="0" y="0" transform="translate(1001,312.2) scale(0.92,1)" fill="#ffffff" stroke="#ffffff" stroke-width="0.7" font-family="Liberation Sans, sans-serif" font-size="30" text-anchor="middle">2</text>
<text x="0" y="0" transform="translate(1000.5,932.7) scale(0.92,1)" fill="#ffffff" stroke="#ffffff" stroke-width="0.7" font-family="Liberation Sans, sans-serif" font-size="30" text-anchor="middle">3</text>
<text x="0" y="0" transform="translate(385.5,933.3) scale(0.92,1)" fill="#ffffff" stroke="#ffffff" stroke-width="0.7" font-family="Liberation Sans, sans-serif" font-size="30" text-anchor="middle">4</text>
<text x="0" y="0" transform="translate(230.6,933.3) scale(0.92,1)" fill="#ffffff" stroke="#ffffff" stroke-width="0.7" font-family="Liberation Sans, sans-serif" font-size="30" text-anchor="middle">5</text>
<rect x="965" y="0" width="2" height="1.5" fill="#999"/>
<rect x="100" y="945.5" width="1015" height="2.5" fill="#eef7f8"/>
</svg>
</body></html>
